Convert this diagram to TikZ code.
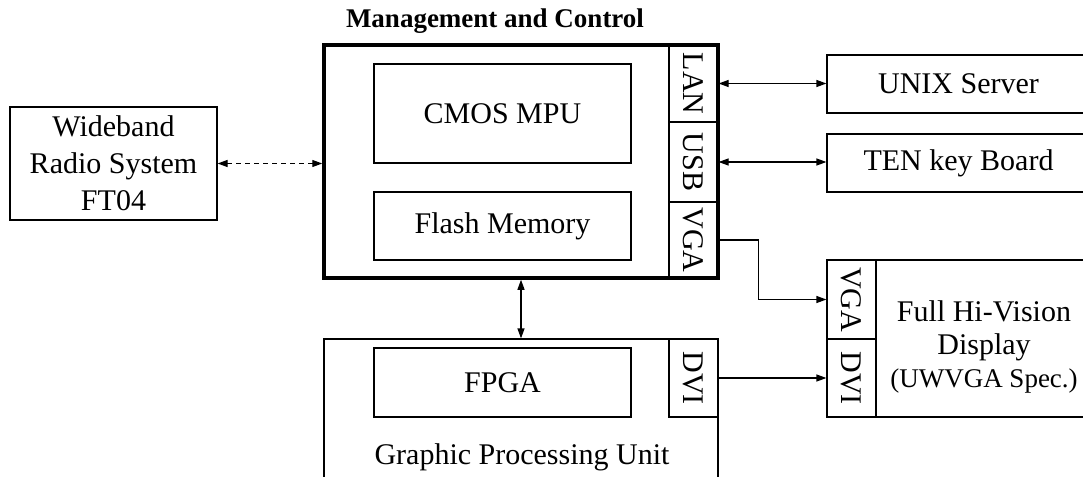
\documentclass[tikz,border=0pt]{standalone}
\usepackage{fontspec}
\setmainfont{Liberation Serif}
\usetikzlibrary{arrows.meta,positioning,calc}

\begin{document}
\begin{tikzpicture}[x=1pt, y=-1pt, >={Triangle[length=10pt,width=7pt]}, line width=1.2pt,
  every node/.style={font=\fontsize{30}{35}\selectfont, inner sep=0pt},
  blk/.style={draw, minimum width=#1},
  port/.style={draw, minimum width=49}]
  \path[use as bounding box] (0,0) rectangle (1083,476);
  \clip (0,0) rectangle (1083,476);
  % management and control
  \node[blk=257, minimum height=99] (mpu) at (502.5,113.5) {CMOS MPU};
  \node[blk=257, minimum height=68] (flash) at (502.5,226) {Flash Memory};
  \foreach \n/\t/\y/\h in {lan/LAN/83.5/77, usb/USB/162/80, vga/VGA/240/76} {
    \node[port, minimum height=\h] (\n) at (693.5,\y) {\rotatebox{-90}{\t}};
  }
  \node[draw, line width=3.5pt, minimum width=394, minimum height=233] (mc) at (521,161.5) {};
  \node[font=\fontsize{27}{30}\selectfont\bfseries] (mctitle) at (495,21) {Management and Control};
  % radio system
  \node[blk=207, minimum height=113, align=center, font=\fontsize{30}{37}\selectfont] (radio) at (113.5,163.5) {Wideband\\Radio System\\FT04};
  % right side
  \node[blk=263, minimum height=58] (unix) at (958.5,84) {UNIX Server};
  \node[blk=263, minimum height=58] (ten) at (958.5,163) {TEN key Board};
  \node[blk=216, minimum height=157] (disp) at (984,338.5) {};
  \node[align=center, font=\fontsize{30}{33}\selectfont] (disptxt) at (984,347) {Full Hi-Vision\\Display\\{\fontsize{27}{33}\selectfont (UWVGA Spec.)}};
  \foreach \n/\t/\y/\h in {dvga/VGA/299.5/79, ddvi/DVI/378/78} {
    \node[port, minimum height=\h] (\n) at (851.5,\y) {\rotatebox{-90}{\t}};
  }
  % graphic processing unit
  \node[blk=394, minimum height=161] (gpu) at (521,419.5) {};
  \node[blk=257, minimum height=69] (fpga) at (502.5,382.5) {FPGA};
  \node[port, minimum height=78] (gdvi) at (693.5,378) {\rotatebox{-90}{DVI}};
  \node (gputxt) at (522,457) {Graphic Processing Unit};
  % connectors
  \draw[<->, dash pattern=on 5pt off 4pt] (radio.east) -- (radio.east -| mc.west);
  \draw[<->] (lan.east) -- (lan.east -| unix.west);
  \draw[<->] (usb.east) -- (usb.east -| ten.west);
  \draw[->] (vga.east) -- ++(40,0) |- (dvga.west);
  \draw[->] (gdvi.east) -- (ddvi.west);
  \draw[<->] (mc.south) -- (gpu.north);
\end{tikzpicture}
\end{document}
